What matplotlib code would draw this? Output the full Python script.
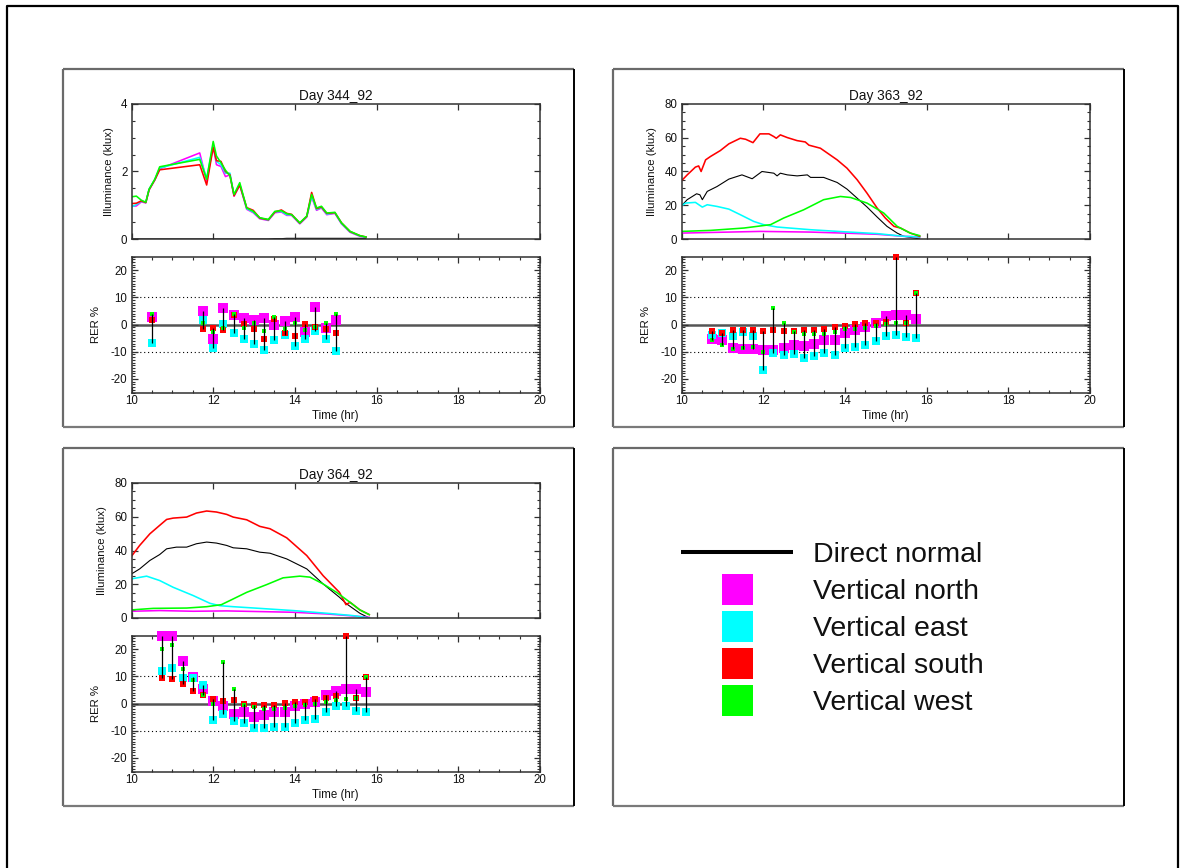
import matplotlib
matplotlib.use("Agg")
import matplotlib.pyplot as plt
from matplotlib.ticker import MultipleLocator, NullLocator
from matplotlib.patches import Rectangle
import numpy as np

plt.rcParams["font.family"] = ["Liberation Sans", "DejaVu Sans"]
plt.rcParams["axes.unicode_minus"] = False

W, H, DPI = 1186, 868, 100

SERIES = ["Direct normal", "Vertical north", "Vertical east", "Vertical south", "Vertical west"]
COLORS = ["black", "#ff00ff", "#00ffff", "#ff0000", "#00ff00"]

# ---------------- Day 344_92 : illuminance (klux) ----------------
d344_t = [10.0, 10.12, 10.24, 10.35, 10.43, 10.57, 10.69, 11.67, 11.84, 12.0, 12.08, 12.19,
          12.3, 12.41, 12.51, 12.65, 12.82, 12.98, 13.14, 13.35, 13.51, 13.67, 13.8, 13.92,
          14.12, 14.29, 14.41, 14.53, 14.65, 14.78, 14.98, 15.14, 15.35, 15.59, 15.74]
d344_direct = [0.0, 0.0, 0.0, 0.0, 0.0, 0.0, 0.0, 0.0, 0.0, 0.0, 0.0, 0.0,
               0.0, 0.0, 0.0, 0.0, 0.0, 0.0, 0.0, 0.0, 0.01, 0.01, 0.02, 0.02,
               0.02, 0.02, 0.02, 0.02, 0.02, 0.02, 0.02, 0.02, 0.02, 0.02, 0.02]
d344_north = [0.97, 0.98, 1.1, 1.07, 1.45, 1.75, 2.08, 2.55, 1.72, 2.75, 2.2, 2.15,
              1.85, 1.9, 1.27, 1.6, 0.88, 0.78, 0.6, 0.55, 0.78, 0.8, 0.7, 0.7,
              0.45, 0.65, 1.25, 0.85, 0.92, 0.72, 0.76, 0.45, 0.2, 0.08, 0.05]
d344_east = [0.95, 1.02, 1.12, 1.08, 1.48, 1.76, 2.1, 2.42, 1.8, 2.8, 2.3, 2.2,
             1.95, 1.95, 1.3, 1.62, 0.9, 0.8, 0.62, 0.56, 0.8, 0.82, 0.72, 0.72,
             0.46, 0.66, 1.28, 0.87, 0.94, 0.74, 0.77, 0.46, 0.21, 0.09, 0.05]
d344_south = [1.05, 1.06, 1.13, 1.08, 1.46, 1.75, 2.05, 2.2, 1.6, 2.72, 2.32, 2.3,
              2.0, 1.9, 1.28, 1.6, 0.93, 0.85, 0.62, 0.57, 0.8, 0.86, 0.76, 0.73,
              0.47, 0.67, 1.38, 0.9, 0.95, 0.76, 0.78, 0.48, 0.22, 0.1, 0.06]
d344_west = [1.25, 1.27, 1.15, 1.09, 1.47, 1.77, 2.14, 2.36, 1.77, 2.89, 2.46, 2.26,
             2.04, 1.87, 1.32, 1.67, 0.92, 0.82, 0.63, 0.58, 0.82, 0.84, 0.75, 0.72,
             0.48, 0.68, 1.32, 0.92, 0.97, 0.77, 0.79, 0.48, 0.23, 0.1, 0.06]

# ---------------- Day 363_92 : illuminance (klux) ----------------
d363_direct_t = [10.0, 10.14, 10.37, 10.45, 10.51, 10.63, 10.87, 11.16, 11.48, 11.73, 11.97, 12.26,
                 12.34, 12.42, 12.59, 12.83, 13.08, 13.16, 13.48, 13.81, 14.05, 14.3, 14.54, 14.79,
                 15.03, 15.28, 15.44, 15.83]
d363_direct = [19.7, 23.3, 26.8, 26.2, 23.3, 28.2, 31.1, 35.5, 38.0, 35.7, 40.0, 39.0,
               37.4, 39.0, 38.0, 37.4, 38.0, 36.5, 36.5, 33.5, 29.6, 24.2, 19.0, 13.0,
               7.5, 3.5, 1.6, 0.0]
d363_north_t = [10.0, 11.93, 13.16, 13.97, 14.79, 15.44, 15.83]
d363_north = [3.5, 4.5, 4.1, 3.5, 2.8, 1.6, 1.2]
d363_east_t = [10.0, 10.1, 10.34, 10.51, 10.63, 10.87, 11.16, 11.44, 11.77, 12.01, 12.34, 13.16,
               13.97, 14.79, 15.44, 15.83]
d363_east = [19.7, 21.3, 21.7, 18.9, 20.3, 19.3, 17.7, 14.4, 10.4, 8.5, 7.1, 5.5,
             4.3, 3.2, 1.6, 1.2]
d363_south_t = [10.0, 10.14, 10.34, 10.42, 10.48, 10.59, 10.71, 10.95, 11.16, 11.44, 11.57, 11.75,
                11.92, 12.14, 12.26, 12.32, 12.42, 12.59, 12.83, 13.03, 13.12, 13.4, 13.81, 14.05,
                14.3, 14.54, 14.79, 14.99, 15.2, 15.36, 15.6, 15.83]
d363_south = [34.5, 38.0, 42.6, 43.3, 40.0, 46.9, 48.9, 52.4, 56.4, 59.7, 59.1, 57.1,
              62.3, 62.3, 60.7, 59.7, 61.7, 60.1, 58.3, 57.5, 55.6, 53.8, 46.9, 42.0,
              35.1, 27.2, 18.3, 12.4, 7.5, 6.5, 3.5, 1.6]
d363_west_t = [10.0, 10.71, 11.53, 12.18, 12.5, 12.99, 13.48, 13.89, 14.14, 14.54, 14.95, 15.28,
               15.6, 15.83]
d363_west = [4.5, 5.1, 6.5, 8.5, 12.4, 17.3, 23.3, 25.2, 24.6, 21.3, 15.4, 7.5,
             3.5, 2.0]

# ---------------- Day 364_92 : illuminance (klux) ----------------
d364_direct_t = [10.0, 10.2, 10.45, 10.69, 10.86, 11.1, 11.35, 11.59, 11.84, 12.08, 12.33, 12.49,
                 12.82, 13.14, 13.39, 13.8, 14.29, 14.69, 15.09, 15.27, 15.59, 15.82]
d364_direct = [26.1, 29.1, 34.1, 37.6, 41.0, 42.0, 42.0, 44.0, 45.0, 44.4, 43.0, 41.6,
               41.0, 39.0, 38.4, 35.0, 29.1, 20.2, 12.3, 8.3, 2.8, 0.0]
d364_north_t = [10.0, 10.69, 11.51, 12.33, 13.96, 14.78, 15.43, 15.82]
d364_north = [4.0, 4.4, 4.0, 4.2, 3.4, 2.4, 1.2, 0.4]
d364_east_t = [10.0, 10.37, 10.69, 11.02, 11.51, 11.92, 12.16, 12.49, 13.14, 13.96, 14.78, 15.43, 15.82]
d364_east = [23.2, 24.8, 22.2, 18.2, 13.3, 8.7, 7.3, 6.7, 5.7, 4.4, 2.8, 1.4, 0.0]
d364_south_t = [10.0, 10.2, 10.45, 10.69, 10.86, 11.02, 11.35, 11.59, 11.84, 12.08, 12.33, 12.49,
                12.82, 13.14, 13.39, 13.8, 14.29, 14.69, 15.09, 15.25, 15.35, 15.59, 15.82]
d364_south = [36.6, 43.0, 49.9, 54.9, 58.4, 59.2, 59.8, 62.2, 63.4, 62.8, 61.4, 59.8,
              58.2, 54.3, 52.9, 47.5, 37.0, 25.1, 15.2, 7.9, 9.3, 4.8, 2.0]
d364_west_t = [10.0, 10.53, 11.35, 11.84, 12.2, 12.49, 12.82, 13.31, 13.71, 14.12, 14.37, 14.69,
               15.02, 15.35, 15.59, 15.82]
d364_west = [4.8, 5.7, 5.9, 6.7, 7.9, 11.3, 15.2, 19.8, 23.8, 24.8, 24.2, 20.2,
             15.2, 9.3, 4.8, 2.0]

# ---------------- RER (%) ----------------
rer344_t = [10.5, 11.75, 12.0, 12.25, 12.5, 12.75, 13.0, 13.25, 13.5, 13.75, 14.0, 14.25, 14.5, 14.75, 15.0]
rer344_north = [2.8, 4.9, -5.5, 5.9, 3.4, 2.5, 1.6, 2.5, -0.2, 1.3, 2.6, -2.7, 6.3, -1.2, 1.6]
rer344_east = [-6.7, 1.8, -8.5, 0.1, -3.1, -5.5, -7.0, -9.2, -5.8, -4.0, -7.9, -5.2, -2.5, -5.5, -9.7]
rer344_south = [1.8, -1.5, -1.2, -2.1, 3.4, 0.1, -1.6, -5.5, 2.2, -3.3, -4.3, 0.1, -1.1, -1.5, -3.3]
rer344_west = [3.7, 0.4, -2.9, -1.2, 3.8, -1.2, 0.6, -2.5, 2.8, -1.5, 0.6, -2.1, -1.1, 0.4, 4.0]

rer_t = [10.75, 11.0, 11.25, 11.5, 11.75, 12.0, 12.25, 12.5, 12.75, 13.0, 13.25,
         13.5, 13.75, 14.0, 14.25, 14.5, 14.75, 15.0, 15.25, 15.5, 15.75]
rer363_north = [-5.2, -5.8, -8.5, -9.1, -9.1, -9.5, -9.5, -8.6, -7.6, -8.0, -7.2,
                -5.8, -5.8, -3.3, -2.1, -1.1, 0.4, 3.1, 3.4, 3.4, 2.2]
rer363_east = [-4.0, -3.1, -4.3, -2.7, -4.3, -16.8, -10.4, -11.3, -10.9, -12.3, -11.5,
               -10.4, -11.3, -8.6, -8.2, -7.4, -6.0, -4.2, -3.9, -4.5, -4.9]
rer363_south = [-2.5, -3.1, -2.1, -2.1, -2.1, -2.5, -2.1, -2.5, -2.5, -2.1, -2.1,
                -1.7, -0.9, -0.5, 0.1, 0.4, 0.6, 1.0, 25.0, 0.4, 11.4]
rer363_west = [-5.8, -7.6, -9.1, -8.5, -8.2, -10.1, 5.9, 0.4, -2.7, -3.6, -3.6,
               -3.6, -2.7, -1.6, -1.6, -1.2, -0.6, 0.1, 0.6, 0.4, 11.7]

rer364_north = [25.0, 25.0, 15.7, 9.8, 5.3, 1.0, -0.9, -3.7, -3.3, -4.8, -4.3,
                -3.1, -3.3, -0.9, -0.2, 0.7, 3.2, 4.7, 5.3, 5.3, 4.4]
rer364_east = [11.8, 13.2, 9.2, 9.2, 6.9, -6.1, -3.7, -6.6, -7.3, -9.1, -9.1,
               -8.6, -8.8, -7.0, -6.1, -5.8, -3.3, -1.0, -1.1, -2.7, -3.3]
rer364_south = [9.5, 8.9, 7.3, 4.7, 3.2, 1.6, 1.0, 1.2, -0.2, -0.5, -0.5,
                -0.5, 0.1, 0.4, 0.7, 1.6, 2.0, 2.8, 25.0, 2.0, 9.8]
rer364_west = [20.0, 21.5, 12.6, 8.6, 3.2, -0.2, 15.4, 5.3, -0.5, -1.2, -2.1,
               -2.1, -1.7, -0.9, -0.5, -0.2, 0.6, 1.2, 1.6, 2.0, 9.8]

TIME_TICKS = [10, 12, 14, 16, 18, 20]

# marker sizes (points) for north, east, south, west squares
MARKER_SIZES = [7.4, 6.2, 4.9, 3.3]

panels = [
    dict(title="Day 344_92", box=(63, 69), ymax=4, ymajor=2, yminor=0.5,
         lines=[(d344_t, d344_direct), (d344_t, d344_north), (d344_t, d344_east),
                (d344_t, d344_south), (d344_t, d344_west)],
         rer_t=rer344_t, rer=[rer344_north, rer344_east, rer344_south, rer344_west]),
    dict(title="Day 363_92", box=(613, 69), ymax=80, ymajor=20, yminor=5,
         lines=[(d363_direct_t, d363_direct), (d363_north_t, d363_north), (d363_east_t, d363_east),
                (d363_south_t, d363_south), (d363_west_t, d363_west)],
         rer_t=rer_t, rer=[rer363_north, rer363_east, rer363_south, rer363_west]),
    dict(title="Day 364_92", box=(63, 448), ymax=80, ymajor=20, yminor=5,
         lines=[(d364_direct_t, d364_direct), (d364_north_t, d364_north), (d364_east_t, d364_east),
                (d364_south_t, d364_south), (d364_west_t, d364_west)],
         rer_t=rer_t, rer=[rer364_north, rer364_east, rer364_south, rer364_west]),
]

fig = plt.figure(figsize=(W / DPI, H / DPI), dpi=DPI)
fig.patch.set_facecolor("white")

# full-figure canvas in pixel units for frames and the key
canvas = fig.add_axes([0, 0, 1, 1], zorder=-1)
canvas.set_xlim(0, W)
canvas.set_ylim(H, 0)
canvas.axis("off")


def px_axes(left, top, right, bottom):
    return fig.add_axes([left / W, 1 - bottom / H, (right - left) / W, (bottom - top) / H])


SPINE = "#303030"
TICK_FS = 8.3


def style_axes(ax):
    for s in ax.spines.values():
        s.set_color(SPINE)
        s.set_linewidth(1.1)
    ax.tick_params(which="both", direction="in", top=True, right=True,
                   color=SPINE, labelsize=TICK_FS, labelcolor="#111111")
    ax.tick_params(which="major", length=4.5, width=0.9, pad=3)
    ax.tick_params(which="minor", length=2.2, width=0.8)


def panel_box(x, y, w=511, h=358):
    canvas.plot([x, x + w], [y, y], color="#6a6a6a", lw=1.6, solid_capstyle="butt")
    canvas.plot([x, x], [y, y + h], color="#6a6a6a", lw=1.6, solid_capstyle="butt")
    canvas.plot([x, x + w], [y + h, y + h], color="#7a7a7a", lw=1.6, solid_capstyle="butt")
    canvas.plot([x + w, x + w], [y, y + h], color="black", lw=1.4, solid_capstyle="butt")


# outer frame (open at the bottom edge of the page)
canvas.plot([7, 7, 1178, 1178], [H, 6, 6, H], color="black", lw=1.6)

for p in panels:
    bx, by = p["box"]
    panel_box(bx, by)

    # illuminance
    ax = px_axes(bx + 68.5, by + 35, bx + 477, by + 170)
    style_axes(ax)
    for (t, v), c in zip(p["lines"], COLORS):
        ax.plot(t, v, color=c, lw=0.8 if c == "black" else 1.15, solid_joinstyle="round")
    ax.set_xlim(10, 20)
    ax.set_ylim(0, p["ymax"])
    ax.xaxis.set_major_locator(MultipleLocator(2))
    ax.xaxis.set_minor_locator(NullLocator())
    ax.yaxis.set_major_locator(MultipleLocator(p["ymajor"]))
    ax.yaxis.set_minor_locator(MultipleLocator(p["yminor"]))
    ax.tick_params(axis="x", labelbottom=False)
    ax.set_title(p["title"], fontsize=9.8, pad=3, color="#111111")
    ax.set_ylabel("Illuminance (klux)", fontsize=8.2, labelpad=5, color="#111111")

    # RER
    ax2 = px_axes(bx + 68.5, by + 187.5, bx + 477, by + 323.5)
    style_axes(ax2)
    ax2.axhline(0, color="#555555", lw=1.8, zorder=1)
    for yv in (10, -10):
        ax2.axhline(yv, color="black", lw=0.8, ls=(0, (1, 2.5)), zorder=1)
    t = p["rer_t"]
    for vals, c, ms in zip(p["rer"], COLORS[1:], MARKER_SIZES):
        ax2.plot(t, vals, ls="none", marker="s", ms=ms, mew=0, color=c,
                 clip_on=False, zorder=3)
    arr = np.array(p["rer"])
    ax2.vlines(t, arr.min(axis=0), arr.max(axis=0), color="black", lw=0.9, zorder=4)
    ax2.set_xlim(10, 20)
    ax2.set_ylim(-25, 25)
    ax2.xaxis.set_major_locator(MultipleLocator(2))
    ax2.xaxis.set_minor_locator(MultipleLocator(0.5))
    ax2.yaxis.set_major_locator(MultipleLocator(10))
    ax2.yaxis.set_minor_locator(MultipleLocator(1))
    ax2.set_xticks(TIME_TICKS)
    ax2.tick_params(axis="x", pad=2)
    ax2.set_xlabel("Time (hr)", fontsize=8.3, labelpad=2, color="#111111")
    ax2.set_ylabel("RER %", fontsize=8.2, labelpad=7, color="#111111")

# key panel
panel_box(613, 448)
canvas.plot([681, 793], [552, 552], color="black", lw=2.9, solid_capstyle="butt")
canvas.text(813, 562.3, SERIES[0], fontsize=20.5, va="baseline", ha="left", color="#111111")
for i, (name, c) in enumerate(zip(SERIES[1:], COLORS[1:])):
    yc = 589.3 + 37 * i
    canvas.add_patch(Rectangle((722, yc - 15.5), 31, 31, facecolor=c, edgecolor="none"))
    canvas.text(813, yc + 10, name, fontsize=20.5, va="baseline", ha="left", color="#111111")

fig.savefig("out.png", dpi=DPI)
